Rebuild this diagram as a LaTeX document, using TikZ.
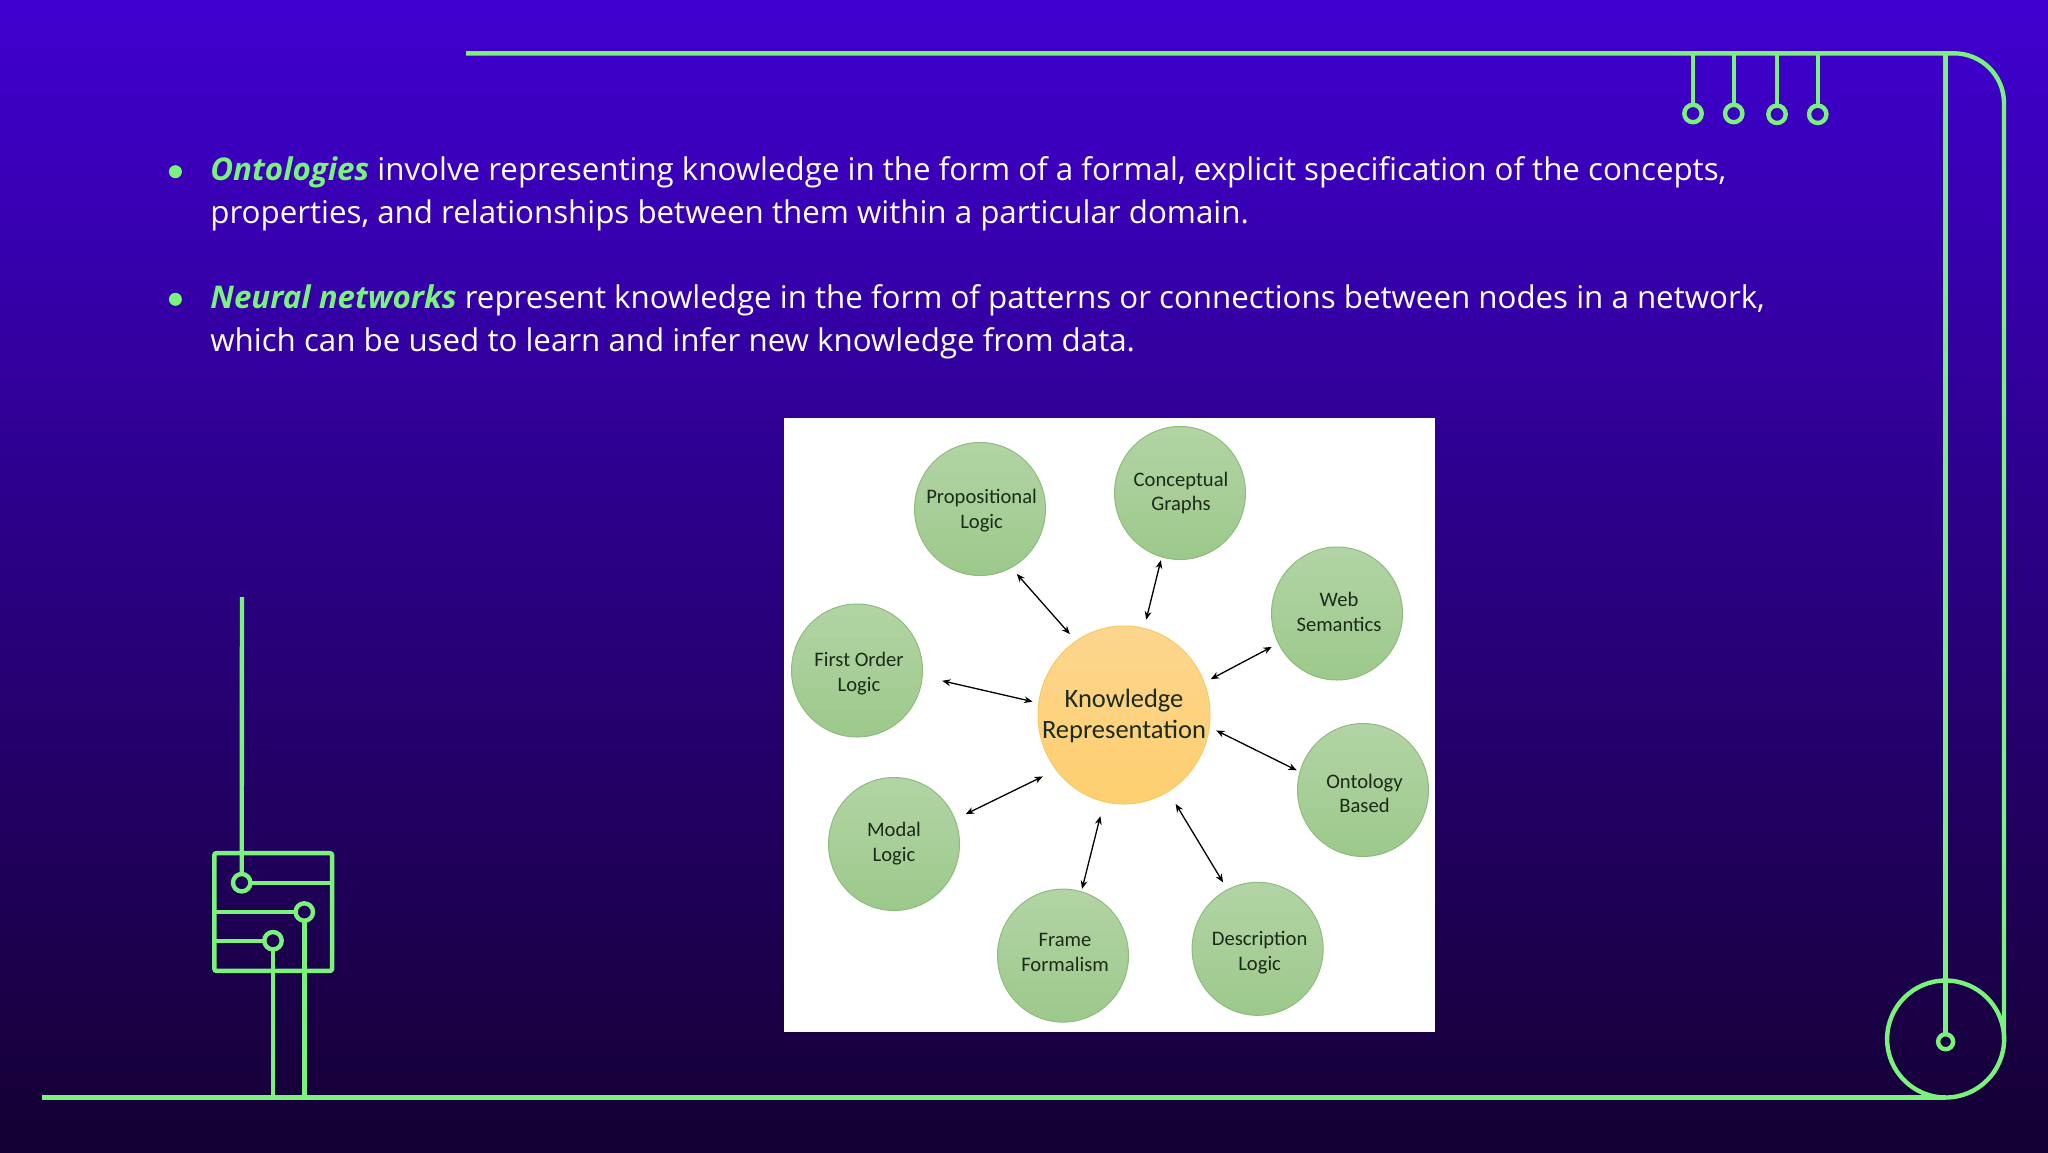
\documentclass[tikz,border=0pt]{standalone}
\usepackage{fontspec}
\setmainfont{Open Sans}
\newfontfamily\ballfont{Carlito}
\usetikzlibrary{arrows.meta,shapes.geometric,calc}
\definecolor{neon}{HTML}{7BF27C}
\definecolor{balltop}{HTML}{B3D4A5}
\definecolor{ballbot}{HTML}{9CC98B}
\definecolor{ballline}{HTML}{8FBC7E}
\definecolor{kntop}{HTML}{FCD68F}
\definecolor{knbot}{HTML}{FFCF6F}
\definecolor{knline}{HTML}{F5CB66}
\definecolor{balltext}{HTML}{1B2B1A}
\tikzset{
  x=0.5pt,y=-0.5pt,
  wire/.style={draw=neon,line width=2.2pt},
  hole/.style={circle,draw=neon,line width=2.2pt,inner sep=0pt,outer sep=0pt,minimum size=8.7pt},
  bullet/.style={circle,fill=neon,inner sep=0pt,minimum size=6.5pt},
  para/.style={anchor=north west,inner sep=0pt,align=left,text=white,font=\fontsize{15.64}{21.5}\selectfont},
  ball/.style={ellipse,draw=ballline,line width=0.5pt,top color=balltop,bottom color=ballbot,inner sep=0pt,outer sep=0pt,minimum width=65.5pt,minimum height=66.5pt},
  balllab/.style={align=center,text=balltext,inner sep=0pt,font=\ballfont\fontsize{10.3}{12.4}\selectfont},
  knlab/.style={align=center,text=balltext,inner sep=0pt,font=\ballfont\fontsize{13.25}{15.7}\selectfont},
  link/.style={{Stealth[length=4.2pt,width=3.4pt]}-{Stealth[length=4.2pt,width=3.4pt]},line width=0.65pt,black},
}
\newcommand{\ballnode}[6]{%
  \node[ball,label={[balllab,xshift=#4*0.5pt,yshift=#5*-0.5pt]center:{#6}}] (#1) at (#2,#3) {};}
\begin{document}
\begin{tikzpicture}
\useasboundingbox (0,0) rectangle (2048,1152);
\shade[top color={rgb,255:red,64;green,0;blue,208},middle color={rgb,255:red,44;green,0;blue,130},bottom color={rgb,255:red,20;green,0;blue,50}] (0,0) rectangle (2048,1152);

% circuit
\coordinate (tl) at (466,53.3);
\coordinate (tr) at (2004,53.3);
\coordinate (br) at (2004,1039);
\coordinate (bl) at (42,1097.5);
\coordinate (lt) at (242,597);
\node[hole,minimum size=58.5pt] (big) at (1945.6,1039) {};
\node[hole,minimum size=7.5pt] (small) at (1945.6,1041.7) {};
\draw[wire,rounded corners=25pt] (tl) -- (tr) -- (br);
\draw[wire] (bl) -- (big.south);
\draw[wire] (small.north) -- (small.north |- tl);
\node[hole] (s1) at (1693,113.5) {};
\node[hole] (s2) at (1733.7,113.5) {};
\node[hole] (s3) at (1777,114.3) {};
\node[hole] (s4) at (1817.7,114.3) {};
\foreach \s in {s1,s2,s3,s4} \draw[wire] (\s.north) -- (\s.north |- tl);
\node[draw=neon,line width=2.2pt,rounded corners=1pt,inner sep=0pt,outer sep=0pt,minimum size=58.85pt] (box) at (273.2,912) {};
\node[hole] (h1) at (241.7,882.7) {};
\node[hole] (h2) at (304.3,912) {};
\node[hole] (h3) at (273,940.7) {};
\draw[wire] (lt) -- (h1.north);
\draw[wire] (h1.east) -- (h1.east -| box.east);
\draw[wire] (h2.west) -- (h2.west -| box.west);
\draw[wire] (h3.west) -- (h3.west -| box.west);
\draw[wire] (h2.south) -- (h2.south |- bl);
\draw[wire] (h3.south) -- (h3.south |- bl);

% text
\node[bullet] (b1) at (175.4,171.7) {};
\node[bullet] (b2) at (175.4,299.3) {};
\node[para] (p1) at (210,156) {{\bfseries\itshape\color{neon}Ontologies} involve representing knowledge in the form of a formal, explicit specification of the concepts,\\properties, and relationships between them within a particular domain.};
\node[para] (p2) at (210,284) {{\bfseries\itshape\color{neon}Neural networks} represent knowledge in the form of patterns or connections between nodes in a network,\\which can be used to learn and infer new knowledge from data.};

% picture
\fill[white] (784,417.5) rectangle (1435,1032);
\node[ellipse,draw=knline,line width=0.5pt,top color=kntop,bottom color=knbot,inner sep=0pt,outer sep=0pt,minimum width=86pt,minimum height=89pt,label={[knlab,yshift=-0.5pt]center:{Knowledge\\Representation}}] (kr) at (1124,715) {};
\ballnode{prop}{980}{509}{1.6}{1.5}{Propositional\\Logic}
\ballnode{conc}{1180}{493}{1}{0}{Conceptual\\Graphs}
\ballnode{web}{1337}{613.5}{2}{-1.5}{Web\\Semantics}
\ballnode{onto}{1363}{790}{1.5}{3.5}{Ontology\\Based}
\ballnode{desc}{1257.6}{948.8}{2}{3.7}{Description\\Logic}
\ballnode{frame}{1063}{955.6}{2}{-3}{Frame\\Formalism}
\ballnode{modal}{894}{844}{0}{-0.5}{Modal\\Logic}
\ballnode{first}{857}{670.5}{2}{3.5}{First Order\\Logic}

\draw[link,shorten <=4.65pt,shorten >=4.3pt] (kr.123.7) -- (prop.-62.2);
\draw[link,shorten <=4.5pt,shorten >=1.7pt] (kr.77) -- (conc.-106.6);
\draw[link,shorten <=3.7pt,shorten >=3.8pt] (kr.22.6) -- (web.-153.8);
\draw[link,shorten <=3.9pt,shorten >=1.8pt] (kr.-8.8) -- (onto.164);
\draw[link,shorten <=7.3pt,shorten >=4.3pt] (kr.-60.5) -- (desc.117);
\draw[link,shorten <=7.5pt,shorten >=1.45pt] (kr.-103.6) -- (frame.74);
\draw[link,shorten <=7.5pt,shorten >=6pt] (kr.-141.6) -- (modal.22.2);
\draw[link,shorten <=3.2pt,shorten >=10.2pt] (kr.172.2) -- (first.-5.7);
\end{tikzpicture}
\end{document}
